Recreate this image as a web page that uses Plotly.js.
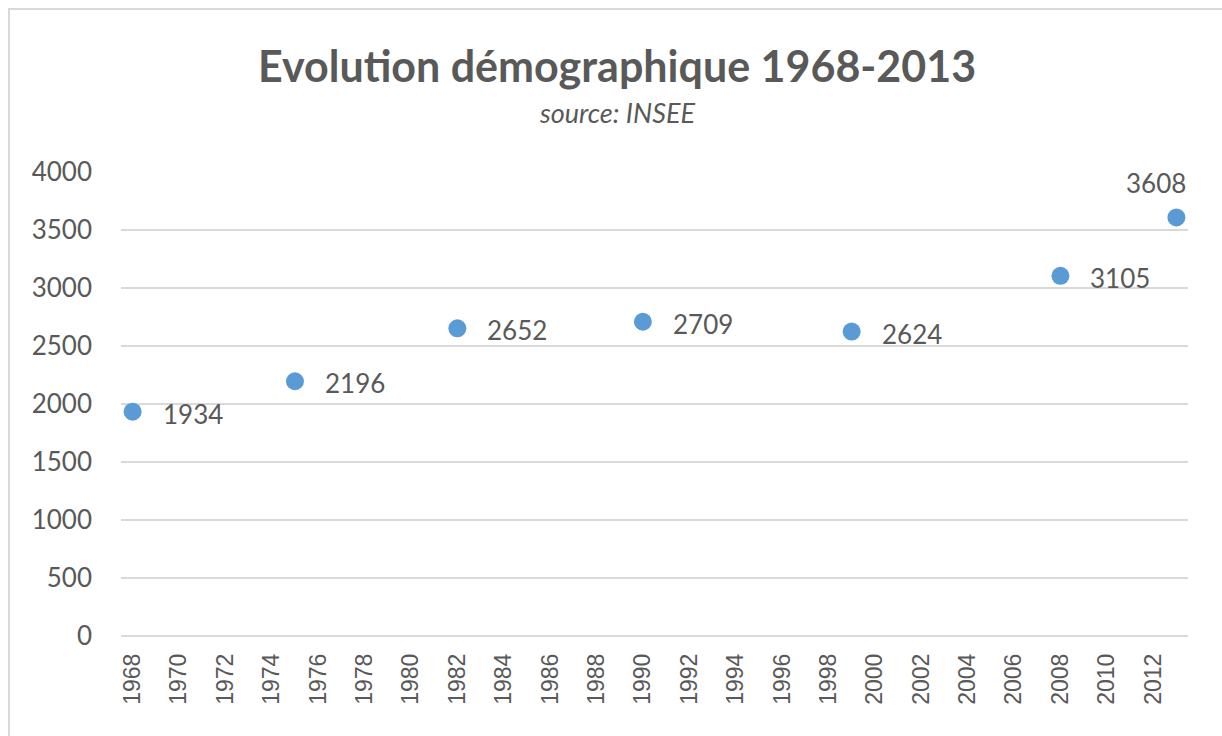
<!DOCTYPE html>
<html>
<head>
<meta charset="utf-8">
<script src="https://cdn.plot.ly/plotly-3.0.1.min.js"></script>
<style>
  html, body { margin: 0; padding: 0; background: #ffffff; }
  #wrap { position: relative; width: 1222px; height: 736px; overflow: hidden; }
  #chart { position: absolute; left: 0; top: 0; width: 1222px; height: 736px; }
  #frame { position: absolute; left: 8px; top: 8px; width: 1230px; height: 740px;
           border: 2px solid #d9d9d9; box-sizing: border-box; pointer-events: none; }
</style>
</head>
<body>
<div id="wrap">
  <div id="chart"></div>
  <div id="frame"></div>
</div>
<script>
// Data
const years = [1968, 1975, 1982, 1990, 1999, 2008, 2013];
const population = [1934, 2196, 2652, 2709, 2624, 3105, 3608];
const xTickValues = [1968,1970,1972,1974,1976,1978,1980,1982,1984,1986,1988,1990,1992,1994,1996,1998,2000,2002,2004,2006,2008,2010,2012];
const yTickValues = [0, 500, 1000, 1500, 2000, 2500, 3000, 3500, 4000];
const titleText = 'Evolution démographique 1968-2013';
const subtitleText = 'source: INSEE';

const textColor = '#595959';
const gridColor = '#d9d9d9';
const markerColor = '#5b9bd5';
const bodyFont = 'Lato, "Open Sans", sans-serif';

const labelAnnotations = years.map((yr, i) => {
  const last = i === years.length - 1;
  return {
    x: yr, y: population[i], xref: 'x', yref: 'y',
    text: String(population[i]), showarrow: false,
    font: { family: bodyFont, size: 26, color: textColor },
    xanchor: last ? 'center' : 'left',
    yanchor: last ? 'bottom' : 'middle',
    xshift: last ? -20 : 28,
    yshift: last ? 16 : -2
  };
});

const trace = {
  x: years, y: population, type: 'scatter', mode: 'markers',
  marker: { color: markerColor, size: 18 },
  hoverinfo: 'x+y'
};

const layout = {
  width: 1222, height: 736,
  paper_bgcolor: 'rgba(0,0,0,0)', plot_bgcolor: '#ffffff',
  margin: { l: 121, r: 34, t: 172, b: 100 },
  showlegend: false,
  font: { family: bodyFont, color: textColor },
  xaxis: {
    range: [1967.5, 2013.5], tickmode: 'array', tickvals: xTickValues,
    ticktext: xTickValues.map(String), tickangle: -90,
    tickfont: { family: '"Liberation Sans", Arial, sans-serif', size: 23, color: textColor },
    showgrid: false, zeroline: false, showline: false, ticks: '',
    ticklabelstandoff: 12, fixedrange: true
  },
  yaxis: {
    range: [0, 4000], tickmode: 'array', tickvals: yTickValues,
    ticktext: yTickValues.map(String),
    tickfont: { family: bodyFont, size: 26, color: textColor },
    showgrid: true, gridcolor: gridColor, gridwidth: 2,
    zeroline: true, zerolinecolor: gridColor, zerolinewidth: 2,
    showline: false, ticks: '', ticklabelstandoff: 28, fixedrange: true
  },
  annotations: [
    { text: '<b>' + titleText + '</b>', xref: 'paper', yref: 'paper',
      x: 0.465, y: 1.229, xanchor: 'center', yanchor: 'middle', showarrow: false,
      font: { family: bodyFont, size: 43, color: textColor } },
    { text: '<i>' + subtitleText + '</i>', xref: 'paper', yref: 'paper',
      x: 0.465, y: 1.129, xanchor: 'center', yanchor: 'middle', showarrow: false,
      font: { family: bodyFont, size: 27, color: textColor } }
  ].concat(labelAnnotations)
};

Plotly.newPlot('chart', [trace], layout, { displayModeBar: false, staticPlot: true });
</script>
</body>
</html>
